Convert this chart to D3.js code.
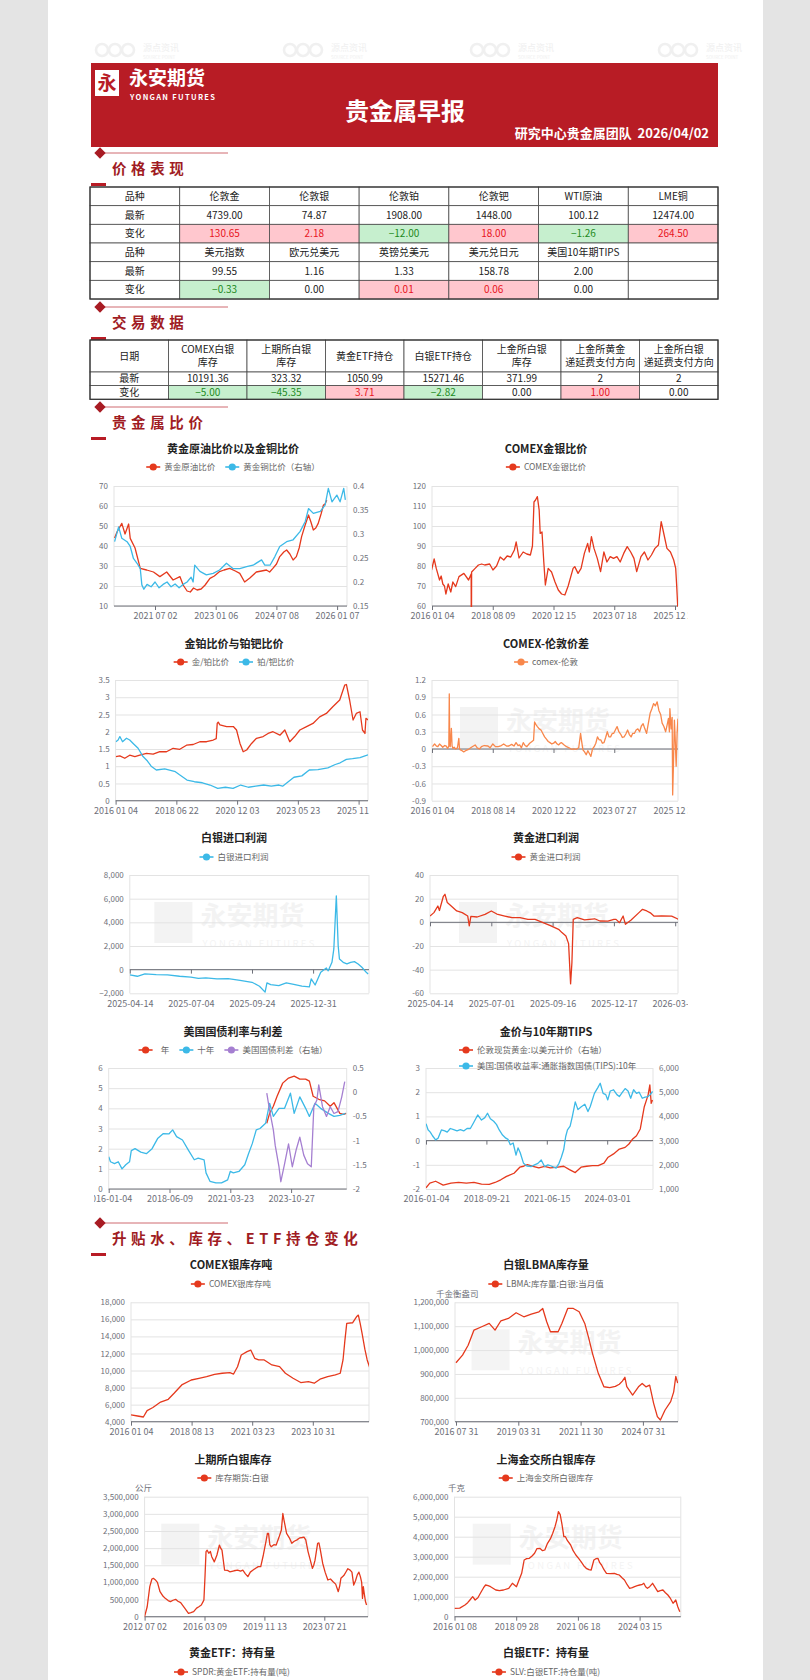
<!DOCTYPE html>
<html>
<head>
    <title>贵金属早报</title>
    <meta charset="UTF-8">
    <script src="https://d3js.org/d3.v7.min.js"></script>
    <style>
        body { margin: 0; padding: 0; background-color: #e4e4e4; }
        svg { display: block; font-family: "Noto Sans CJK SC", "Noto Sans", sans-serif; }
    </style>
</head>
<body>
<svg id="page" width="810" height="1680"></svg>
<script>
// ---------- table data ----------
var priceNames1 = ["伦敦金", "伦敦银", "伦敦铂", "伦敦钯", "WTI原油", "LME铜"];
var priceLast1 = ["4739.00", "74.87", "1908.00", "1448.00", "100.12", "12474.00"];
var priceChg1 = [130.65, 2.18, -12.00, 18.00, -1.26, 264.50];
var priceNames2 = ["美元指数", "欧元兑美元", "英镑兑美元", "美元兑日元", "美国10年期TIPS", ""];
var priceLast2 = ["99.55", "1.16", "1.33", "158.78", "2.00", ""];
var priceChg2 = [-0.33, 0.00, 0.01, 0.06, 0.00, null];

var tradeHeads = [["日期"], ["COMEX白银", "库存"], ["上期所白银", "库存"], ["黄金ETF持仓"], ["白银ETF持仓"],
                  ["上金所白银", "库存"], ["上金所黄金", "递延费支付方向"], ["上金所白银", "递延费支付方向"]];
var tradeLast = ["10191.36", "323.32", "1050.99", "15271.46", "371.99", "2", "2"];
var tradeChg = [-5.00, -45.35, 3.71, -2.82, 0.00, 1.00, 0.00];

// ---------- series data: [decimal year or date, value] ----------
var goldOil = [[2020.49,44],[2020.55,47],[2020.67,51.3],[2020.75,46],[2020.84,51],[2020.88,43.8],[2021.0,39],[2021.13,28.8],
  [2021.29,28],[2021.46,27],[2021.62,24.7],[2021.79,27],[2021.95,23],[2022.12,24.7],[2022.2,20.5],[2022.3,17.5],[2022.38,17],
  [2022.46,19],[2022.55,18],[2022.65,18.5],[2022.75,20.5],[2022.87,23.8],[2022.98,25],[2023.11,27.2],[2023.22,28],[2023.36,28.8],
  [2023.5,27.5],[2023.61,26.3],[2023.73,22],[2023.86,24],[2024.02,27],[2024.15,27.5],[2024.27,28],[2024.35,27],[2024.43,28.8],
  [2024.52,31],[2024.6,34.7],[2024.7,37],[2024.77,38],[2024.85,36],[2024.93,33],[2025.01,34.7],[2025.08,39],[2025.14,44.7],
  [2025.22,50],[2025.31,55.5],[2025.37,52],[2025.43,48],[2025.49,49],[2025.55,51.3],[2025.62,56],[2025.68,60.5],[2025.72,61],[2025.76,63]];
var goldCopper = [[2020.49,0.284],[2020.59,0.315],[2020.67,0.291],[2020.8,0.284],[2020.88,0.274],[2020.96,0.249],[2021.05,0.239],
  [2021.13,0.228],[2021.17,0.194],[2021.22,0.185],[2021.3,0.195],[2021.4,0.19],[2021.5,0.2],[2021.6,0.188],[2021.7,0.195],
  [2021.8,0.2],[2021.9,0.19],[2022.0,0.196],[2022.1,0.188],[2022.2,0.195],[2022.3,0.2],[2022.4,0.21],[2022.45,0.2],[2022.49,0.235],
  [2022.62,0.222],[2022.78,0.215],[2022.95,0.218],[2023.11,0.225],[2023.28,0.239],[2023.44,0.228],[2023.61,0.228],[2023.78,0.232],
  [2023.94,0.235],[2024.15,0.246],[2024.23,0.235],[2024.36,0.235],[2024.48,0.253],[2024.6,0.274],[2024.77,0.284],[2024.93,0.288],
  [2025.1,0.305],[2025.23,0.326],[2025.31,0.353],[2025.43,0.343],[2025.6,0.347],[2025.72,0.36],[2025.8,0.395],[2025.89,0.367],
  [2026.01,0.381],[2026.09,0.367],[2026.18,0.395],[2026.22,0.371]];
var goldSilver = [[2015.99,78],[2016.1,83.5],[2016.19,78.8],[2016.33,73],[2016.4,75],[2016.47,71],[2016.54,70],[2016.6,66],
  [2016.7,71],[2016.81,67],[2016.9,72],[2017.02,69.7],[2017.16,74.7],[2017.37,76.3],[2017.57,73],[2017.68,76],[2017.685,55],
  [2017.69,76],[2017.695,55],[2017.7,77],[2017.85,78.8],[2017.99,80.5],[2018.13,81],[2018.26,80.5],[2018.47,81],[2018.61,78],
  [2018.75,80],[2018.89,84.5],[2019.03,83],[2019.16,85],[2019.3,84.5],[2019.44,88],[2019.51,92],[2019.62,84],[2019.78,87],
  [2019.92,86],[2020.06,85.5],[2020.14,90],[2020.2,112],[2020.26,113],[2020.33,114.7],[2020.4,108],[2020.44,96.3],[2020.51,97],
  [2020.58,82],[2020.64,70.5],[2020.75,78.8],[2020.88,77],[2021.02,72],[2021.16,68],[2021.3,66],[2021.44,65.5],[2021.58,70],
  [2021.79,78.8],[2021.86,79.7],[2022.0,76.3],[2022.13,78.8],[2022.27,86.3],[2022.41,91.3],[2022.48,87],[2022.57,94.7],
  [2022.68,88.8],[2022.82,83.8],[2022.96,77.2],[2023.1,87],[2023.23,82],[2023.37,84.7],[2023.51,83.8],[2023.65,84.7],
  [2023.78,82],[2023.92,86.3],[2024.06,89.7],[2024.2,87],[2024.33,83.8],[2024.44,77.2],[2024.61,84.7],[2024.75,87],
  [2024.89,83],[2025.03,85.5],[2025.17,88.8],[2025.31,90.5],[2025.42,102.2],[2025.51,97],[2025.65,88.8],[2025.79,87],
  [2025.92,83],[2026.0,78.8],[2026.04,70],[2026.08,60],[2026.14,63],[2026.2,66]];
var goldPlat = [[2016.02,1.28],[2016.18,1.3],[2016.38,1.23],[2016.58,1.32],[2016.79,1.28],[2016.99,1.32],[2017.26,1.37],
  [2017.53,1.35],[2017.8,1.42],[2018.07,1.42],[2018.34,1.52],[2018.61,1.49],[2018.88,1.61],[2019.15,1.63],[2019.42,1.71],
  [2019.69,1.71],[2019.96,1.76],[2020.08,1.8],[2020.12,2.24],[2020.16,2.28],[2020.23,2.2],[2020.5,2.15],[2020.77,2.15],
  [2020.9,2.05],[2021.04,1.66],[2021.17,1.42],[2021.31,1.47],[2021.51,1.66],[2021.71,1.81],[2021.98,1.86],[2022.18,1.95],
  [2022.38,2.0],[2022.66,1.9],[2022.86,2.05],[2023.06,1.71],[2023.26,1.86],[2023.47,2.05],[2023.74,2.15],[2024.0,2.24],
  [2024.27,2.43],[2024.54,2.53],[2024.81,2.73],[2025.08,2.92],[2025.28,3.35],[2025.35,3.37],[2025.48,2.92],[2025.62,2.34],
  [2025.75,2.53],[2025.9,2.58],[2026.0,2.05],[2026.1,1.95],[2026.14,2.39],[2026.23,2.34]];
var platPall = [[2016.02,1.71],[2016.11,1.76],[2016.18,1.86],[2016.29,1.71],[2016.45,1.81],[2016.58,1.76],[2016.72,1.66],
  [2016.92,1.52],[2017.12,1.28],[2017.3,1.15],[2017.45,1.0],[2017.66,0.89],[2018.0,0.92],[2018.43,0.84],[2018.6,0.75],
  [2018.9,0.6],[2019.2,0.55],[2019.52,0.52],[2019.83,0.455],[2020.14,0.36],[2020.45,0.39],[2020.76,0.36],[2021.07,0.455],
  [2021.38,0.39],[2021.68,0.42],[2022.0,0.455],[2022.31,0.42],[2022.62,0.455],[2022.77,0.42],[2023.0,0.55],[2023.23,0.68],
  [2023.55,0.72],[2023.85,0.89],[2024.2,0.9],[2024.6,0.95],[2024.9,1.05],[2025.1,1.1],[2025.35,1.2],[2025.6,1.22],
  [2025.9,1.25],[2026.1,1.3],[2026.23,1.33]];
var comexLondon = [[2016.03,0.04],[2016.12,0.087],[2016.2,0.05],[2016.26,0.04],[2016.33,0.087],[2016.4,0.06],[2016.47,0.03],
  [2016.55,0.06],[2016.61,0.052],[2016.68,0.01],[2016.73,0.05],[2016.75,0.96],[2016.77,0.1],[2016.79,0.04],[2016.84,0.36],
  [2016.87,0.05],[2016.91,0.01],[2016.96,0.03],[2017.02,0.0],[2017.1,0.02],[2017.16,0.185],[2017.19,0.0],[2017.23,-0.017],
  [2017.3,-0.03],[2017.37,-0.05],[2017.45,-0.03],[2017.58,-0.006],[2017.7,0.03],[2017.86,0.07],[2017.95,0.02],[2018.05,0.0],
  [2018.13,0.04],[2018.25,0.06],[2018.41,0.052],[2018.5,0.02],[2018.62,0.087],[2018.72,0.04],[2018.83,0.04],[2018.95,0.06],
  [2019.04,0.087],[2019.15,0.05],[2019.24,0.052],[2019.35,0.08],[2019.44,0.05],[2019.52,0.11],[2019.6,0.06],[2019.66,0.07],
  [2019.73,0.02],[2019.8,0.11],[2019.87,0.06],[2019.94,0.04],[2020.05,0.1],[2020.14,0.13],[2020.2,0.15],[2020.24,0.47],
  [2020.3,0.42],[2020.35,0.39],[2020.42,0.35],[2020.49,0.33],[2020.56,0.27],[2020.63,0.21],[2020.7,0.17],[2020.77,0.13],
  [2020.84,0.11],[2020.91,0.087],[2020.98,0.1],[2021.05,0.13],[2021.12,0.09],[2021.19,0.07],[2021.26,0.1],[2021.32,0.11],
  [2021.43,0.07],[2021.53,0.04],[2021.64,0.02],[2021.74,-0.006],[2021.85,0.0],[2021.95,-0.006],[2022.05,0.02],[2022.13,0.27],
  [2022.17,0.15],[2022.23,-0.017],[2022.3,-0.05],[2022.37,-0.1],[2022.44,-0.03],[2022.5,-0.075],[2022.57,-0.13],[2022.64,0.0],
  [2022.71,0.04],[2022.78,0.1],[2022.85,0.21],[2022.92,0.16],[2022.99,0.16],[2023.06,0.1],[2023.13,0.11],[2023.2,0.2],
  [2023.27,0.3],[2023.34,0.21],[2023.41,0.21],[2023.48,0.27],[2023.54,0.27],[2023.61,0.33],[2023.68,0.39],[2023.75,0.3],
  [2023.82,0.26],[2023.89,0.2],[2023.96,0.21],[2024.03,0.26],[2024.1,0.33],[2024.17,0.25],[2024.24,0.21],[2024.3,0.27],
  [2024.37,0.27],[2024.44,0.33],[2024.51,0.35],[2024.58,0.3],[2024.65,0.4],[2024.72,0.44],[2024.79,0.35],[2024.86,0.27],
  [2024.93,0.45],[2025.0,0.62],[2025.07,0.7],[2025.14,0.79],[2025.21,0.75],[2025.28,0.82],[2025.35,0.67],[2025.42,0.6],
  [2025.48,0.45],[2025.55,0.39],[2025.62,0.3],[2025.68,0.42],[2025.73,0.53],[2025.77,0.3],[2025.79,0.7],[2025.84,0.35],
  [2025.88,0.55],[2025.9,-0.8],[2025.93,-0.3],[2025.97,0.5],[2026.0,0.2],[2026.04,-0.3],[2026.08,0.3],[2026.11,0.52],
  [2026.16,0.1],[2026.22,0.48]];
var silverImport = [["2025-04-14",-450],["2025-04-24",-560],["2025-05-04",-365],["2025-05-19",-420],["2025-06-03",-440],
  ["2025-06-19",-560],["2025-07-04",-640],["2025-07-14",-730],["2025-07-24",-700],["2025-08-08",-785],["2025-08-23",-760],
  ["2025-09-08",-900],["2025-09-24",-1070],["2025-10-06",-1400],["2025-10-15",-1900],["2025-10-18",-1125],["2025-10-24",-1265],
  ["2025-11-06",-1350],["2025-11-18",-1125],["2025-11-30",-1250],["2025-12-13",-1400],["2025-12-25",-1460],["2025-12-28",-785],
  ["2026-01-03",-1300],["2026-01-12",-225],["2026-01-21",140],["2026-01-24",-100],["2026-01-30",620],["2026-02-02",1750],
  ["2026-02-06",6240],["2026-02-09",2000],["2026-02-11",900],["2026-02-17",620],["2026-02-23",480],["2026-03-01",620],
  ["2026-03-07",675],["2026-03-13",480],["2026-03-19",200],["2026-03-26",-225],["2026-03-29",-365]];
var goldImport = [["2025-04-14",5.3],["2025-04-19",8.2],["2025-04-24",13.8],["2025-04-26",10],["2025-05-01",22],["2025-05-03",23.7],
  ["2025-05-06",16.7],["2025-05-11",13.8],["2025-05-18",9.6],["2025-05-25",8.2],["2025-06-01",5.3],["2025-06-03",-3],
  ["2025-06-05",5],["2025-06-13",4.5],["2025-06-23",6.7],["2025-07-01",9.6],["2025-07-08",7],["2025-07-18",5.3],
  ["2025-07-27",3.9],["2025-08-06",4],["2025-08-16",2.5],["2025-08-25",2.5],["2025-09-04",-0.3],["2025-09-14",-3],
  ["2025-09-25",-5.9],["2025-09-30",-8.7],["2025-10-06",-11.5],["2025-10-10",-18],["2025-10-13",-52],["2025-10-15",-34],
  ["2025-10-17",2.5],["2025-10-23",3.9],["2025-11-03",2],["2025-11-18",3],["2025-11-26",1.1],["2025-12-08",1],
  ["2025-12-17",2.5],["2025-12-20",2.5],["2025-12-25",-0.3],["2025-12-30",5.3],["2026-01-02",-1.7],["2026-01-10",2],
  ["2026-01-21",8.2],["2026-01-26",11],["2026-02-01",9.6],["2026-02-06",8],["2026-02-11",5.3],["2026-02-22",5.5],
  ["2026-03-08",5.3],["2026-03-16",3],["2026-03-17",2.5]];
var us2y = [[2022.78,3.26],[2022.9,3.75],[2023.06,4.1],[2023.22,4.6],[2023.46,5.25],[2023.71,5.5],[2023.95,5.6],[2024.19,5.45],
  [2024.44,5.45],[2024.6,5.35],[2024.76,4.6],[2025.0,4.45],[2025.25,4.37],[2025.49,4.1],[2025.65,4.28],[2025.9,3.75],
  [2026.06,3.7],[2026.17,3.75]];
var us10y = [[2016.01,1.6],[2016.08,1.35],[2016.24,1.26],[2016.39,1.35],[2016.54,1.0],[2016.69,1.2],[2016.84,1.35],[2016.91,1.9],
  [2017.06,2.0],[2017.29,1.83],[2017.51,1.75],[2017.74,2.0],[2017.96,2.5],[2018.19,2.75],[2018.41,2.73],[2018.58,2.93],
  [2018.76,2.6],[2019.03,2.43],[2019.3,1.93],[2019.57,1.45],[2019.75,1.53],[2020.02,1.45],[2020.11,0.8],[2020.29,0.38],
  [2020.56,0.3],[2020.82,0.3],[2021.1,0.45],[2021.22,0.87],[2021.35,0.8],[2021.59,0.87],[2021.84,1.2],[2022.0,1.75],
  [2022.16,2.25],[2022.33,2.93],[2022.49,3.0],[2022.73,3.26],[2022.9,4.25],[2023.06,3.6],[2023.3,4.0],[2023.54,4.0],
  [2023.79,4.75],[2023.95,3.75],[2024.19,4.57],[2024.44,4.0],[2024.6,3.6],[2024.84,4.25],[2025.08,4.0],[2025.41,3.75],
  [2025.65,3.6],[2025.9,3.65],[2026.14,3.75]];
var usSpread = [[2022.78,-0.02],[2022.9,-0.37],[2023.06,-0.78],[2023.14,-1.1],[2023.3,-1.54],[2023.38,-1.85],[2023.54,-1.48],
  [2023.71,-1.07],[2023.87,-1.54],[2024.03,-1.2],[2024.19,-0.93],[2024.36,-1.3],[2024.52,-1.48],[2024.68,-1.54],[2024.79,-0.3],
  [2024.92,-0.16],[2025.0,0.15],[2025.16,-0.3],[2025.33,-0.5],[2025.49,-0.3],[2025.65,-0.44],[2025.82,-0.4],[2025.98,-0.1],
  [2026.11,0.22]];
var goldPrice = [[2016.01,1050],[2016.18,1240],[2016.44,1320],[2016.78,1160],[2017.13,1240],[2017.47,1270],[2017.82,1240],
  [2018.16,1270],[2018.5,1200],[2018.85,1190],[2019.11,1270],[2019.37,1380],[2019.63,1520],[2019.97,1650],[2020.23,1900],
  [2020.4,1940],[2020.57,2010],[2020.83,1940],[2021.09,1870],[2021.35,1940],[2021.61,1870],[2021.95,1900],[2022.21,1940],
  [2022.47,1800],[2022.73,1680],[2022.99,1900],[2023.24,1940],[2023.5,1970],[2023.76,1970],[2024.02,2070],[2024.19,2300],
  [2024.45,2450],[2024.71,2650],[2024.97,2720],[2025.14,2860],[2025.31,3070],[2025.48,3200],[2025.65,3480],[2025.83,4400],
  [2026.0,4880],[2026.08,5300],[2026.14,4540],[2026.2,4680]];
var tips10y = [[2016.01,0.7],[2016.1,0.45],[2016.2,0.35],[2016.3,0.2],[2016.44,0.03],[2016.55,0.1],[2016.7,0.44],[2016.85,0.4],
  [2016.96,0.35],[2017.1,0.5],[2017.25,0.45],[2017.4,0.4],[2017.55,0.45],[2017.7,0.4],[2017.85,0.5],[2018.0,0.5],[2018.15,0.75],
  [2018.33,1.06],[2018.5,0.85],[2018.65,0.95],[2018.77,1.13],[2018.9,0.9],[2019.05,0.8],[2019.18,0.66],[2019.3,0.44],
  [2019.45,0.23],[2019.6,0.1],[2019.7,0.05],[2019.8,-0.17],[2019.93,-0.1],[2020.06,-0.6],[2020.15,-0.3],[2020.25,-0.5],
  [2020.4,-0.94],[2020.55,-1.05],[2020.75,-1.07],[2020.9,-1.0],[2021.05,-0.94],[2021.2,-0.8],[2021.35,-1.07],[2021.5,-1.0],
  [2021.65,-1.05],[2021.87,-1.14],[2022.0,-0.94],[2022.1,-0.7],[2022.21,-0.38],[2022.3,0.17],[2022.38,0.44],[2022.5,0.6],
  [2022.6,1.0],[2022.73,1.6],[2022.85,1.28],[2023.0,1.4],[2023.16,1.5],[2023.3,1.2],[2023.4,1.4],[2023.59,1.95],[2023.75,2.2],
  [2023.85,2.37],[2023.98,1.95],[2024.1,1.9],[2024.19,1.68],[2024.3,2.05],[2024.45,2.1],[2024.6,1.9],[2024.71,1.82],
  [2024.85,2.0],[2024.97,2.15],[2025.1,2.05],[2025.22,1.75],[2025.35,2.1],[2025.48,1.95],[2025.6,2.0],[2025.74,1.75],
  [2025.87,1.8],[2026.0,1.82],[2026.1,1.9],[2026.2,2.03]];
var comexStock = [[2016.01,4790],[2016.29,4670],[2016.54,4550],[2016.7,5300],[2016.95,5660],[2017.28,6300],[2017.61,6630],
  [2017.86,7330],[2018.19,8310],[2018.6,8890],[2018.93,9090],[2019.26,9280],[2019.6,9550],[2019.93,9680],[2020.26,9750],
  [2020.42,9590],[2020.59,10450],[2020.75,11820],[2021.0,12210],[2021.16,12400],[2021.33,11430],[2021.5,11240],[2021.74,11240],
  [2022.07,10650],[2022.4,10450],[2022.65,9680],[2022.98,9090],[2023.31,8590],[2023.64,8700],[2023.89,8510],[2024.14,8980],
  [2024.47,9280],[2024.8,9480],[2025.01,9680],[2025.13,11240],[2025.21,13500],[2025.29,15530],[2025.54,15600],[2025.71,16300],
  [2025.79,16500],[2025.87,15500],[2025.95,14360],[2026.07,12500],[2026.17,11240],[2026.29,10260]];
var lbmaStock = [[2016.58,946900],[2016.86,979000],[2017.1,1020000],[2017.35,1083700],[2017.68,1097600],[2018.0,1111500],
  [2018.25,1083700],[2018.5,1122700],[2018.82,1132400],[2019.15,1156100],[2019.48,1139400],[2019.8,1150500],[2020.13,1160300],
  [2020.29,1174200],[2020.46,1118400],[2020.62,1076700],[2020.95,1076700],[2021.11,1111500],[2021.36,1174200],[2021.6,1174200],
  [2021.85,1160300],[2022.09,1111500],[2022.26,1050000],[2022.42,986200],[2022.67,902500],[2022.91,846400],[2023.16,843000],
  [2023.4,848000],[2023.57,857000],[2023.7,870000],[2023.81,886000],[2023.89,846400],[2024.14,811700],[2024.39,846000],
  [2024.55,860000],[2024.71,846000],[2024.87,853000],[2025.04,777000],[2025.2,721000],[2025.33,707000],[2025.53,749000],
  [2025.77,784000],[2025.9,825000],[2025.99,890000],[2026.07,862000]];
var shfeStock = [[2012.5,0],[2012.66,291000],[2012.82,875000],[2012.95,1100000],[2013.04,1120000],[2013.15,1080000],
  [2013.29,1000000],[2013.45,729000],[2013.6,620000],[2013.77,535000],[2013.95,470000],[2014.09,438000],[2014.25,480000],
  [2014.41,506000],[2014.55,450000],[2014.72,409000],[2014.98,244000],[2015.2,99000],[2015.35,120000],[2015.52,146000],
  [2015.7,250000],[2015.84,291000],[2015.99,340000],[2016.1,440000],[2016.15,486000],[2016.22,1200000],[2016.28,1900000],
  [2016.35,1940000],[2016.45,1850000],[2016.55,1900000],[2016.63,1750000],[2016.79,1600000],[2016.95,1800000],[2017.1,2090000],
  [2017.18,2000000],[2017.26,1940000],[2017.42,1360000],[2017.6,1350000],[2017.74,1310000],[2018.0,1340000],[2018.22,1360000],
  [2018.4,1330000],[2018.54,1360000],[2018.7,1250000],[2018.85,1170000],[2019.0,1300000],[2019.17,1360000],[2019.35,1420000],
  [2019.49,1460000],[2019.64,1460000],[2019.8,1800000],[2019.96,2190000],[2020.05,2430000],[2020.12,2430000],[2020.2,2100000],
  [2020.28,2040000],[2020.45,2100000],[2020.59,2090000],[2020.75,2300000],[2020.91,2530000],[2021.0,3010000],[2021.07,2820000],
  [2021.23,2430000],[2021.4,2300000],[2021.55,2140000],[2021.7,2200000],[2021.87,2240000],[2022.05,2300000],[2022.19,2310000],
  [2022.3,2320000],[2022.41,2240000],[2022.55,1900000],[2022.66,1700000],[2022.82,1410000],[2022.9,1500000],[2022.98,1650000],
  [2023.14,2140000],[2023.22,2150000],[2023.29,1990000],[2023.45,1560000],[2023.6,1300000],[2023.77,1070000],[2023.93,1100000],
  [2024.09,1020000],[2024.25,950000],[2024.41,729000],[2024.5,900000],[2024.57,1120000],[2024.75,1200000],[2024.89,1310000],
  [2025.0,1400000],[2025.14,1360000],[2025.25,1300000],[2025.36,923000],[2025.47,1050000],[2025.58,1220000],[2025.68,1300000],
  [2025.77,1170000],[2025.85,1000000],[2025.9,535000],[2025.95,875000],[2026.0,700000],[2026.08,450000],[2026.15,340000]];
var sgeStock = [[2016.02,420000],[2016.25,430000],[2016.48,585000],[2016.6,700000],[2016.7,835000],[2016.82,1000000],
  [2016.93,835000],[2017.05,950000],[2017.16,1170000],[2017.3,1450000],[2017.39,1585000],[2017.5,1550000],[2017.61,1500000],
  [2017.84,1335000],[2018.0,1300000],[2018.18,1335000],[2018.41,1420000],[2018.57,1670000],[2018.75,1500000],[2018.98,2170000],
  [2019.09,2835000],[2019.2,2900000],[2019.32,2920000],[2019.45,3050000],[2019.55,3170000],[2019.65,3400000],[2019.78,3420000],
  [2019.9,3300000],[2020.0,3335000],[2020.12,3670000],[2020.25,3900000],[2020.35,4170000],[2020.45,4500000],[2020.53,4835000],
  [2020.6,5250000],[2020.68,5100000],[2020.76,4600000],[2020.84,4000000],[2020.91,4000000],[2021.0,3800000],[2021.14,3585000],
  [2021.25,3300000],[2021.37,3085000],[2021.5,2900000],[2021.6,2750000],[2021.72,2550000],[2021.83,2420000],[2021.95,2350000],
  [2022.05,2335000],[2022.17,2835000],[2022.26,2900000],[2022.35,2920000],[2022.43,2700000],[2022.51,2585000],[2022.62,2350000],
  [2022.73,2170000],[2022.9,2150000],[2023.08,2170000],[2023.2,2120000],[2023.3,2085000],[2023.42,1950000],[2023.53,1835000],
  [2023.65,1600000],[2023.76,1420000],[2023.88,1450000],[2023.98,1500000],[2024.1,1550000],[2024.21,1585000],[2024.3,1600000],
  [2024.39,1670000],[2024.47,1500000],[2024.55,1420000],[2024.65,1500000],[2024.78,1670000],[2024.9,1450000],[2025.01,1250000],
  [2025.12,1300000],[2025.24,1335000],[2025.35,1200000],[2025.46,1085000],[2025.58,900000],[2025.69,670000],[2025.81,835000],
  [2025.9,500000],[2025.99,250000]];

var RED = "#e5391d", BLUE = "#3cb9e7", PURPLE = "#a57fd1", ORANGE = "#f8874b";
var comma = d3.format(",");

var charts = [
  {title: "黄金原油比价以及金铜比价", cx: 233, ty: 449, ly: 467, x0: 114, x1: 347, y0: 486, y1: 606,
   xTicks: ["2021 07 02", "2023 01 06", "2024 07 08", "2026 01 07"], first: 41, step: 60.7,
   left: {min: 10, max: 70, step: 10}, right: {min: 0.15, max: 0.4, step: 0.05},
   series: [{name: "黄金原油比价", data: goldOil, color: RED}, {name: "黄金铜比价（右轴）", data: goldCopper, color: BLUE, axis: "right"}]},
  {title: "COMEX金银比价", cx: 546, ty: 449, ly: 467, x0: 432, x1: 678, y0: 486, y1: 606,
   xTicks: ["2016 01 04", "2018 08 09", "2020 12 15", "2023 07 18", "2025 12 22"], first: 0, step: 60.75,
   left: {min: 60, max: 120, step: 10},
   series: [{name: "COMEX金银比价", data: goldSilver, color: RED}]},
  {title: "金铂比价与铂钯比价", cx: 234, ty: 644, ly: 662, x0: 115.6, x1: 368, y0: 680, y1: 800.7,
   xTicks: ["2016 01 04", "2018 06 22", "2020 12 03", "2023 05 23", "2025 11 05"], first: 0, step: 60.75,
   left: {min: 0, max: 3.5, step: 0.5},
   series: [{name: "金/铂比价", data: goldPlat, color: RED}, {name: "铂/钯比价", data: platPall, color: BLUE}]},
  {title: "COMEX-伦敦价差", cx: 546, ty: 644, ly: 662, x0: 432, x1: 678, y0: 680, y1: 800.7, wm: true,
   xTicks: ["2016 01 04", "2018 08 14", "2020 12 22", "2023 07 27", "2025 12 30"], first: 0, step: 60.75,
   left: {min: -0.9, max: 1.2, step: 0.3},
   series: [{name: "comex-伦敦", data: comexLondon, color: ORANGE}]},
  {title: "白银进口利润", cx: 234, ty: 838, ly: 857, x0: 129.8, x1: 369, y0: 875, y1: 993.3, wm: true,
   xTicks: ["2025-04-14", "2025-07-04", "2025-09-24", "2025-12-31"], first: 0, step: 61.1,
   left: {min: -2000, max: 8000, step: 2000, fmt: comma},
   series: [{name: "白银进口利润", data: silverImport, color: BLUE}]},
  {title: "黄金进口利润", cx: 546, ty: 838, ly: 857, x0: 430, x1: 678, y0: 875, y1: 993.3, wm: true,
   xTicks: ["2025-04-14", "2025-07-01", "2025-09-16", "2025-12-17", "2026-03-13"], first: 0, step: 61.3,
   left: {min: -60, max: 40, step: 20},
   series: [{name: "黄金进口利润", data: goldImport, color: RED}]},
  {title: "美国国债利率与利差", cx: 233, ty: 1032, ly: 1050, x0: 108.7, x1: 346.7, y0: 1068, y1: 1189,
   xTicks: ["2016-01-04", "2018-06-09", "2021-03-23", "2023-10-27"], first: 0, step: 60.8,
   left: {min: 0, max: 6, step: 1}, right: {min: -2, max: 0.5, step: 0.5},
   series: [{name: "\u2002年", data: us2y, color: RED}, {name: "十年", data: us10y, color: BLUE},
            {name: "美国国债利差（右轴）", data: usSpread, color: PURPLE, axis: "right"}]},
  {title: "金价与10年期TIPS", cx: 546, ty: 1032, ly: 1050, legendLeft: 459, legendRows: true, x0: 426, x1: 653, y0: 1068, y1: 1189,
   xTicks: ["2016-01-04", "2018-09-21", "2021-06-15", "2024-03-01"], first: 0, step: 60.4,
   left: {min: -2, max: 3, step: 1}, right: {min: 1000, max: 6000, step: 1000, fmt: comma},
   series: [{name: "伦敦现货黄金:以美元计价（右轴）", data: goldPrice, color: RED, axis: "right"},
            {name: "美国:国债收益率:通胀指数国债(TIPS):10年", data: tips10y, color: BLUE}]},
  {title: "COMEX银库存吨", cx: 231, ty: 1265, ly: 1284, x0: 131, x1: 369, y0: 1302.3, y1: 1421.7,
   xTicks: ["2016 01 04", "2018 08 13", "2021 03 23", "2023 10 31"], first: 0, step: 60.6,
   left: {min: 4000, max: 18000, step: 2000, fmt: comma},
   series: [{name: "COMEX银库存吨", data: comexStock, color: RED}]},
  {title: "白银LBMA库存量", cx: 546, ty: 1265, ly: 1284, x0: 455, x1: 678, y0: 1302.3, y1: 1421.7, wm: true,
   unit: ["千金衡盎司", 436, 1297],
   xTicks: ["2016 07 31", "2019 03 31", "2021 11 30", "2024 07 31"], first: 1, step: 62.3,
   left: {min: 700000, max: 1200000, step: 100000, fmt: comma},
   series: [{name: "LBMA:库存量:白银:当月值", data: lbmaStock, color: RED}]},
  {title: "上期所白银库存", cx: 233, ty: 1460, ly: 1478, x0: 144.6, x1: 368, y0: 1496.7, y1: 1616.7, wm: true,
   unit: ["公斤", 135, 1491],
   xTicks: ["2012 07 02", "2016 03 09", "2019 11 13", "2023 07 21"], first: 0, step: 59.9,
   left: {min: 0, max: 3500000, step: 500000, fmt: comma},
   series: [{name: "库存期货:白银", data: shfeStock, color: RED}]},
  {title: "上海金交所白银库存", cx: 546, ty: 1460, ly: 1478, x0: 454.5, x1: 680.8, y0: 1496.7, y1: 1616.7, wm: true,
   unit: ["千克", 448, 1491],
   xTicks: ["2016 01 08", "2018 09 28", "2021 06 18", "2024 03 15"], first: 0, step: 61.7,
   left: {min: 0, max: 6000000, step: 1000000, fmt: comma},
   series: [{name: "上海金交所白银库存", data: sgeStock, color: RED}]}
];
// titles of the charts cut off at the page bottom
var tailCharts = [
  {title: "黄金ETF：持有量", cx: 232, ty: 1653, ly: 1672, series: [{name: "SPDR:黄金ETF:持有量(吨)", color: RED}]},
  {title: "白银ETF：持有量", cx: 546, ty: 1653, ly: 1672, series: [{name: "SLV:白银ETF:持仓量(吨)", color: RED}]}
];

// ---------- helpers ----------
var FONT = '"Noto Sans CJK SC", "Noto Sans", sans-serif';
var svg = d3.select("#page");

function dec(s) {
    if (typeof s === "number") return s;
    var p = s.split(/[ -]/).map(Number);
    return p[0] + (Date.UTC(p[0], p[1] - 1, p[2]) - Date.UTC(p[0], 0, 1)) / (365.25 * 86400000);
}
function steps(a) {
    var n = Math.round((a.max - a.min) / a.step);
    return d3.range(n + 1).map(function(i) { return +(a.min + i * a.step).toFixed(6); });
}

// page
svg.append("rect").attr("x", 48).attr("y", 0).attr("width", 715).attr("height", 1680).attr("fill", "#fff");
var defs = svg.append("defs");
defs.append("clipPath").attr("id", "colL").append("rect").attr("x", 94).attr("y", 0).attr("width", 276).attr("height", 1680);
defs.append("clipPath").attr("id", "colR").append("rect").attr("x", 385).attr("y", 0).attr("width", 303).attr("height", 1680);

// faint source watermarks above the header
[95, 283, 470, 658].forEach(function(x) {
    var w = svg.append("g").attr("opacity", 0.5), y = 50;
    [0, 13, 26].forEach(function(o) {
        w.append("circle").attr("cx", x + 7 + o).attr("cy", y).attr("r", 6).attr("fill", "none").attr("stroke", "#e2e2e2").attr("stroke-width", 2.5);
    });
    w.append("text").attr("x", x + 48).attr("y", y + 1).attr("font-size", 9).attr("fill", "#e2e2e2").text("源点资讯");
    w.append("text").attr("x", x + 48).attr("y", y + 9).attr("font-size", 4.5).attr("fill", "#e2e2e2").text("SOURCE POINT");
});

// header band
svg.append("rect").attr("x", 91).attr("y", 63).attr("width", 627).attr("height", 84).attr("fill", "#b81c25");
svg.append("rect").attr("x", 95).attr("y", 70).attr("width", 24).attr("height", 26).attr("fill", "#fff");
svg.append("text").attr("x", 107).attr("y", 90).attr("text-anchor", "middle").attr("font-size", 19)
    .attr("font-weight", "bold").attr("fill", "#b81c25").text("永");
svg.append("text").attr("x", 129).attr("y", 85).attr("font-size", 19).attr("font-weight", "bold").attr("fill", "#fff").text("永安期货");
svg.append("text").attr("x", 130).attr("y", 99.5).attr("font-size", 7.5).attr("font-weight", "bold").attr("fill", "#fff")
    .attr("textLength", 85).text("YONGAN FUTURES");
svg.append("text").attr("x", 405).attr("y", 120).attr("text-anchor", "middle").attr("font-size", 24)
    .attr("font-weight", "bold").attr("fill", "#fff").text("贵金属早报");
svg.append("text").attr("x", 709).attr("y", 138).attr("text-anchor", "end").attr("font-size", 13)
    .attr("font-weight", "bold").attr("fill", "#fff").text("研究中心贵金属团队\u00a0\u00a02026/04/02");

// section headings
function section(y, label) {
    svg.append("line").attr("x1", 100).attr("x2", 228).attr("y1", y - 16).attr("y2", y - 16)
        .attr("stroke", "#cf6b70").attr("stroke-width", 1);
    svg.append("rect").attr("x", 96).attr("y", y - 20).attr("width", 8).attr("height", 8)
        .attr("transform", "rotate(45," + 100 + "," + (y - 16) + ")").attr("fill", "#a81b23");
    svg.append("text").attr("x", 112).attr("y", y + 5).attr("font-size", 14.5).attr("font-weight", "bold")
        .attr("letter-spacing", 4.6).attr("fill", "#a01c23").text(label);
    svg.append("rect").attr("x", 91).attr("y", y + 14).attr("width", 15).attr("height", 3).attr("fill", "#b81c25");
}
section(169, "价格表现");
section(323, "交易数据");
section(423, "贵金属比价");
section(1239, "升贴水、库存、ETF持仓变化");

// tables
function chgCell(v) {
    if (v === null) return {t: [""]};
    return {t: [d3.format(".2f")(v)], tone: v > 0 ? "up" : (v < 0 ? "down" : "")};
}
function textCell(s) { return {t: Array.isArray(s) ? s : [s]}; }

function drawTable(rows, x0, y0, width, rowHs) {
    var colW = width / rows[0].length;
    var cells = [], y = y0;
    rows.forEach(function(r, ri) {
        r.forEach(function(c, ci) {
            cells.push({x: x0 + ci * colW, y: y, w: colW, h: rowHs[ri], c: c});
        });
        y += rowHs[ri];
    });
    var g = svg.append("g");
    g.selectAll("rect").data(cells).join("rect")
        .attr("x", function(d) { return d.x; }).attr("y", function(d) { return d.y; })
        .attr("width", function(d) { return d.w; }).attr("height", function(d) { return d.h; })
        .attr("fill", function(d) { return d.c.tone === "up" ? "#ffc7ce" : (d.c.tone === "down" ? "#c6efce" : "#fff"); })
        .attr("stroke", "#4a4a4a").attr("stroke-width", 0.8);
    g.selectAll("text").data(cells).join("text")
        .attr("text-anchor", "middle").attr("font-size", 10)
        .attr("fill", function(d) { return d.c.tone === "up" ? "#e8141c" : (d.c.tone === "down" ? "#1d8a22" : "#222"); })
        .each(function(d) {
            var t = d3.select(this), n = d.c.t.length;
            d.c.t.forEach(function(line, i) {
                t.append("tspan").attr("x", d.x + d.w / 2)
                    .attr("y", d.y + d.h / 2 + 3.6 + (i - (n - 1) / 2) * 13.4).text(line);
            });
        });
    g.append("rect").attr("x", x0).attr("y", y0).attr("width", width).attr("height", y - y0)
        .attr("fill", "none").attr("stroke", "#333").attr("stroke-width", 1.2);
}

drawTable([
    ["品种"].concat(priceNames1).map(textCell),
    ["最新"].concat(priceLast1).map(textCell),
    [textCell("变化")].concat(priceChg1.map(chgCell)),
    ["品种"].concat(priceNames2).map(textCell),
    ["最新"].concat(priceLast2).map(textCell),
    [textCell("变化")].concat(priceChg2.map(chgCell))
], 90, 187, 628, [18.67, 18.67, 18.67, 18.67, 18.67, 18.67]);

drawTable([
    tradeHeads.map(textCell),
    ["最新"].concat(tradeLast).map(textCell),
    [textCell("变化")].concat(tradeChg.map(chgCell))
], 90, 340, 628, [32, 13.6, 13.7]);

// charts
function drawTitleLegend(c) {
    svg.append("text").attr("x", c.cx).attr("y", c.ty + 4).attr("text-anchor", "middle").attr("font-size", 11)
        .attr("font-weight", "bold").attr("fill", "#222").text(c.title);
    var rows = c.legendRows ? c.series.map(function(s) { return [s]; }) : [c.series];
    rows.forEach(function(items, ri) {
        var lg = svg.append("g"), cur = 0;
        items.forEach(function(s) {
            var ig = lg.append("g").attr("transform", "translate(" + cur + ",0)");
            ig.append("line").attr("x1", 0).attr("x2", 14).attr("stroke", s.color).attr("stroke-width", 1.6);
            ig.append("circle").attr("cx", 7).attr("r", 3.6).attr("fill", s.color);
            var t = ig.append("text").attr("x", 18).attr("y", 3).attr("font-size", 8.5).attr("fill", "#666").text(s.name);
            cur += 18 + t.node().getComputedTextLength() + 10;
        });
        var left = c.legendLeft != null ? c.legendLeft : c.cx - (cur - 10) / 2;
        lg.attr("transform", "translate(" + left + "," + (c.ly + ri * 16) + ")");
    });
}

function styleAxis(a, size) {
    a.select(".domain").remove();
    a.selectAll("text").attr("font-size", size).attr("fill", "#6e7079").attr("font-family", FONT);
}

function drawChart(c, idx) {
    var W = c.x1 - c.x0;
    var tickVals = c.xTicks.map(dec);
    var x = d3.scaleLinear().domain(tickVals)
        .range(tickVals.map(function(d, i) { return c.x0 + c.first + i * c.step; }));
    var yl = d3.scaleLinear().domain([c.left.min, c.left.max]).range([c.y1, c.y0]);
    var yr = c.right ? d3.scaleLinear().domain([c.right.min, c.right.max]).range([c.y1, c.y0]) : null;
    var g = svg.append("g");

    drawTitleLegend(c);

    if (c.wm) {
        // faint company watermark inside the plot
        var w = g.append("g").attr("opacity", 0.045), cx = (c.x0 + c.x1) / 2 - 14, top = c.y0 + 27;
        w.append("rect").attr("x", cx - 81).attr("y", top).attr("width", 38).attr("height", 41).attr("fill", "#000");
        w.append("text").attr("x", cx - 35).attr("y", top + 23).attr("font-size", 26).attr("font-weight", "bold").text("永安期货");
        w.append("text").attr("x", cx - 33).attr("y", top + 45).attr("font-size", 9.5).attr("textLength", 112).text("YONGAN FUTURES");
    }

    // grid
    g.append("g").attr("transform", "translate(" + c.x0 + ",0)")
        .call(d3.axisLeft(yl).tickValues(steps(c.left)).tickSize(-W).tickFormat(""))
        .call(function(a) { a.select(".domain").remove(); a.selectAll("line").attr("stroke", "#e3e3e3"); });
    [c.x0, c.x1].forEach(function(v) {
        g.append("line").attr("x1", v).attr("x2", v).attr("y1", c.y0).attr("y2", c.y1).attr("stroke", "#e3e3e3");
    });

    // y labels
    g.append("g").attr("transform", "translate(" + c.x0 + ",0)")
        .call(d3.axisLeft(yl).tickValues(steps(c.left)).tickSize(0).tickPadding(6).tickFormat(c.left.fmt || String))
        .call(function(a) { styleAxis(a, 8); });
    if (yr) {
        g.append("g").attr("transform", "translate(" + c.x1 + ",0)")
            .call(d3.axisRight(yr).tickValues(steps(c.right)).tickSize(0).tickPadding(6).tickFormat(c.right.fmt || String))
            .call(function(a) { styleAxis(a, 8); });
    }
    if (c.unit) {
        g.append("text").attr("x", c.unit[1]).attr("y", c.unit[2]).attr("font-size", 8.5).attr("fill", "#6e7079").text(c.unit[0]);
    }

    // x axis line on zero, ticks, labels at the bottom
    var zy = (c.left.min < 0 && c.left.max > 0) ? yl(0) : c.y1;
    g.append("line").attr("x1", c.x0).attr("x2", c.x1).attr("y1", zy).attr("y2", zy).attr("stroke", "#6e7079");
    g.append("g").attr("transform", "translate(0," + zy + ")")
        .call(d3.axisBottom(x).tickValues(tickVals).tickSize(4).tickFormat(""))
        .call(function(a) { a.select(".domain").remove(); a.selectAll("line").attr("stroke", "#6e7079"); });
    g.append("g").attr("clip-path", "url(#" + (c.x0 < 400 ? "colL" : "colR") + ")")
        .append("g").attr("transform", "translate(0," + c.y1 + ")")
        .call(d3.axisBottom(x).tickValues(tickVals).tickSize(0).tickPadding(7)
            .tickFormat(function(d, i) { return c.xTicks[i]; }))
        .call(function(a) { styleAxis(a, 9); });

    // series
    var clipId = "plot" + idx;
    defs.append("clipPath").attr("id", clipId).append("rect")
        .attr("x", c.x0).attr("y", c.y0 - 1).attr("width", W).attr("height", c.y1 - c.y0 + 2);
    c.series.forEach(function(s) {
        var y = s.axis === "right" ? yr : yl;
        g.append("path").datum(s.data).attr("clip-path", "url(#" + clipId + ")")
            .attr("fill", "none").attr("stroke", s.color).attr("stroke-width", 1.3).attr("stroke-linejoin", "round")
            .attr("d", d3.line().x(function(d) { return x(dec(d[0])); }).y(function(d) { return y(d[1]); }));
    });
}

charts.forEach(drawChart);
tailCharts.forEach(drawTitleLegend);
</script>
</body>
</html>
